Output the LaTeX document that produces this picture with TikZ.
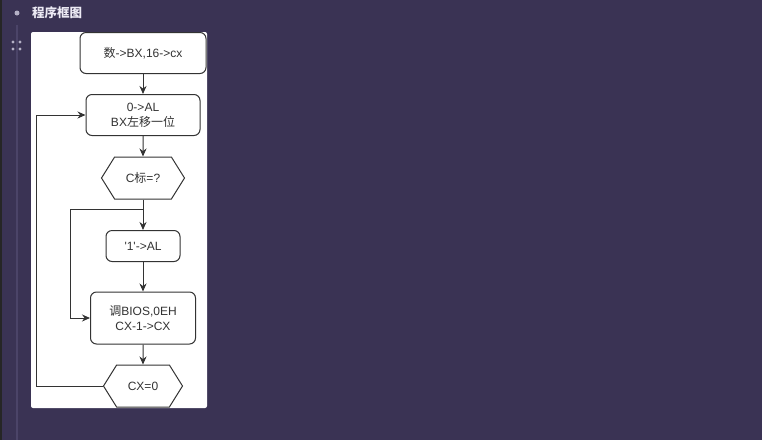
\documentclass[tikz,border=0pt]{standalone}
\usepackage{fontspec}
\setmainfont{Liberation Sans}
\newfontfamily\cjk{Noto Sans CJK SC}
\usetikzlibrary{positioning, shapes.symbols, arrows.meta}
\definecolor{bgpurple}{HTML}{3A3354}
\definecolor{railpurple}{HTML}{4B4468}
\definecolor{dotgray}{HTML}{B5B1C6}
\definecolor{linegray}{HTML}{333333}
\definecolor{titlewhite}{HTML}{ECEAF4}
\tikzstyle{process} = [rectangle, rounded corners=6pt, draw=linegray, line width=1pt, fill=white, text=linegray, align=center, inner sep=0pt, font=\fontsize{12}{15}\selectfont]
\tikzstyle{decision} = [signal, signal to=west and east, signal pointer angle=116, draw=linegray, line width=1pt, fill=white, text=linegray, align=center, inner sep=0pt, font=\fontsize{12}{15}\selectfont]
\tikzstyle{arrow} = [line width=1pt, draw=linegray, -{Stealth[length=8pt,width=7pt]}]

\begin{document}
\begin{tikzpicture}[x=1pt, y=-1pt, node distance=65pt]

%Background
\useasboundingbox (0,0) rectangle (762,440);
\fill[bgpurple] (0,0) rectangle (762,440);
\fill[black!85] (0,0) rectangle (2,440);
\fill[railpurple] (16,25) rectangle (18,440);
\fill[dotgray] (17,13) circle (2.5);
\foreach \dx in {13,20}
  \foreach \dy in {42,49}
    \fill[dotgray] (\dx,\dy) circle (1.7);
\node (title) [anchor=west, inner sep=0pt, text=titlewhite, font=\fontsize{12.5}{14}\selectfont\bfseries] at (32,13) {\cjk 程序框图};
\fill[white, rounded corners=2pt] (31,32) rectangle (207,408);

%Nodes
\node (init) [process, minimum width=126pt, minimum height=41pt] at (143,53) {{\cjk 数}->BX,16->cx};
\node (shift) [process, below of=init, yshift=3pt, minimum width=114pt, minimum height=41pt] {0->AL\\BX{\cjk 左移一位}};
\node (cflag) [decision, below of=shift, yshift=2pt, minimum width=83pt, minimum height=42pt] {C{\cjk 标}=?};
\node (setone) [process, below of=cflag, yshift=-3pt, minimum width=74pt, minimum height=31pt] {\textquotesingle 1\textquotesingle->AL};
\node (bios) [process, below of=setone, yshift=-7pt, minimum width=105pt, minimum height=52pt] {{\cjk 调}BIOS,0EH\\CX-1->CX};
\node (cxzero) [decision, below of=bios, yshift=-3pt, minimum width=79pt, minimum height=42pt] {CX=0};
\coordinate (split) at ([yshift=-10pt]cflag.south);

%Arrows
\draw [arrow] (init) -- (shift);
\draw [arrow] (shift) -- (cflag);
\draw [arrow] (cflag) -- (setone);
\draw [arrow] (split) -- ++(-73,0) |- (bios.west);
\draw [arrow] (setone) -- (bios);
\draw [arrow] (bios) -- (cxzero);
\draw [arrow] (cxzero.west) -- ++(-66,0) |- (shift.west);

\end{tikzpicture}
\end{document}
